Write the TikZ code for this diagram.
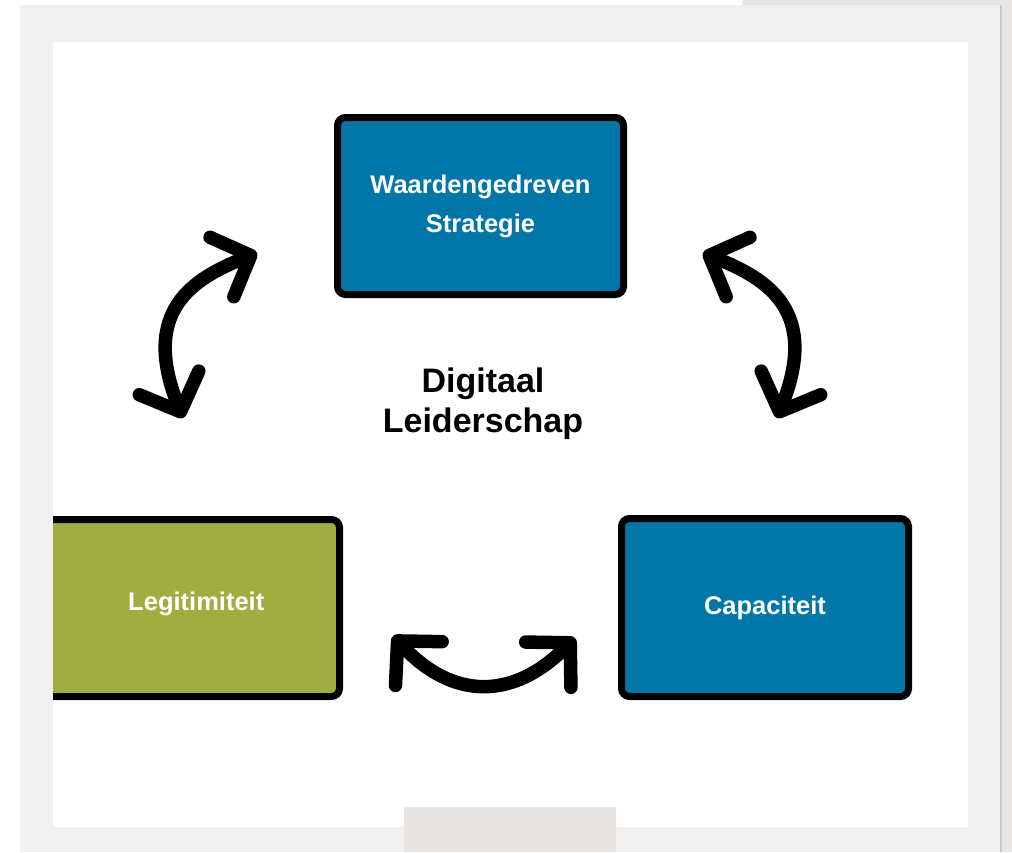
\documentclass[tikz,border=0pt]{standalone}
\usepackage{fontspec}
\setmainfont{Liberation Sans}
\usepackage{tikz}
\usetikzlibrary{arrows.meta}
\usetikzlibrary{positioning}
\tikzset{>=latex}
\usepackage{xcolor}
\definecolor{boxblue}{HTML}{0077A8}
\definecolor{boxgreen}{HTML}{A0AD40}
\definecolor{panelgray}{HTML}{F0F0F0}
\definecolor{pagegray}{HTML}{E8E6E4}
\definecolor{tabgray}{HTML}{E6E3E0}
\tikzstyle{box}=[draw=black,line width=7pt,rounded corners=8pt,inner sep=0pt,outer sep=0pt,minimum width=286pt,minimum height=177pt,text=white,align=center,font=\fontsize{25.5}{39}\selectfont\bfseries]
\def\loopwidth{13.5pt}

\begin{document}
\begin{tikzpicture}[x=1pt,y=-1pt,
	loop/.style={line width=\loopwidth, line cap=round,
		{Straight Barb[length=31pt,width=64pt,round]}-{Straight Barb[length=31pt,width=64pt,round]}},
	]
	
	\useasboundingbox (0,0) rectangle (1012,852);
	\fill[white] (0,0) rectangle (1012,852);
	\fill[pagegray] (742,0) rectangle (1012,852);
	\fill[panelgray] (20,5) rectangle (1000,852);
	\fill[black!22] (1000,5) rectangle (1002,852);
	\fill[white] (53,42) rectangle (968,827);
	\fill[tabgray] (404,807) rectangle (616,852);
	
	\node[box, fill=boxblue] (strat) at (480.5,206) {Waardengedreven\\Strategie};
	\node[box, fill=boxblue, minimum width=287pt, minimum height=178pt] (capa) at (765,607.5) {Capaciteit};
	\begin{scope}
		\clip (53,0) rectangle (1012,852);
		\node[box, fill=boxgreen, minimum width=294.5pt, text depth=14pt] (legit) at (192.25,608) {\hspace*{8pt}Legitimiteit};
	\end{scope}
	
	\node[inner sep=0pt, align=center, font=\fontsize{34}{40}\selectfont\bfseries] (dl) at (483,404) {Digitaal\\Leiderschap};
	
	% loops
	\coordinate (la1) at (183,418);
	\coordinate (la2) at (257,253);
	\coordinate (ra1) at (777,418);
	\coordinate (ra2) at (703,253);
	\coordinate (ba1) at (393,636);
	\coordinate (ba2) at (575,638);
	
	\draw[loop] (la1) .. controls +(-42.5,-107) and +(-65,26) .. (la2);
	\draw[loop] (ra1) .. controls +(42.5,-107) and +(65,26) .. (ra2);
	\draw[loop] (ba1) .. controls +(60,64) and +(-62,62) .. (ba2);
	
\end{tikzpicture}
\end{document}
